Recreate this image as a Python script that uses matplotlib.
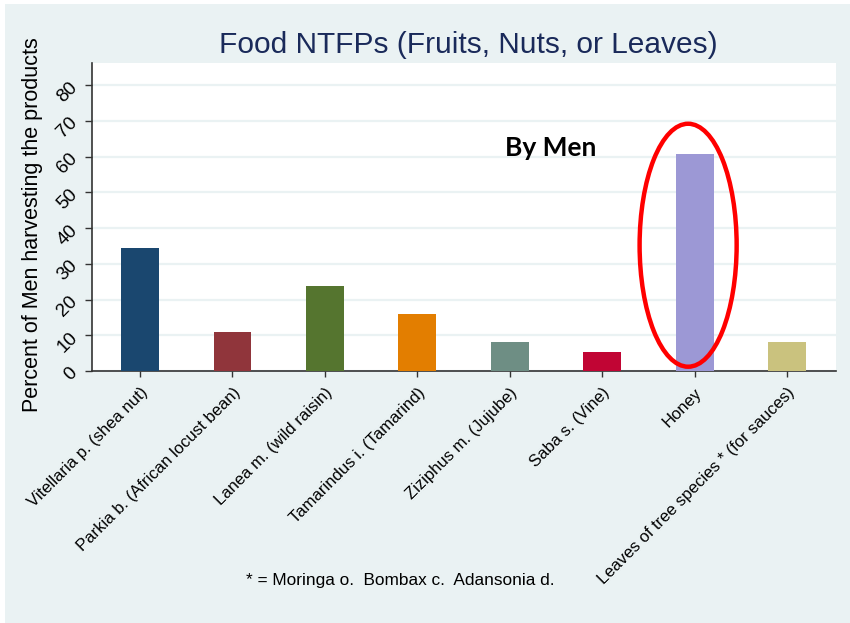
import numpy as np
import matplotlib.pyplot as plt
from matplotlib.patches import Ellipse, Rectangle

categories = ["Vitellaria p. (shea nut)", "Parkia b. (African locust bean)",
              "Lanea m. (wild raisin)", "Tamarindus i. (Tamarind)",
              "Ziziphus m. (Jujube)", "Saba s. (Vine)", "Honey",
              "Leaves of tree species * (for sauces)"]
values = [34.4, 10.8, 23.8, 15.9, 8.0, 5.4, 60.7, 8.0]
colors = ["#1a476f", "#90353b", "#55752f", "#e37e00",
          "#6e8e84", "#c10534", "#9c98d5", "#cac27e"]
yticks = [0, 10, 20, 30, 40, 50, 60, 70, 80]

plt.rcParams['font.family'] = ['Liberation Sans', 'DejaVu Sans']
bg = "#eaf2f3"

fig = plt.figure(figsize=(8.5, 6.23), dpi=100)
fig.patch.set_facecolor("white")
fig.patches.append(Rectangle((5/850, 0), 1, 1 - 4/623, transform=fig.transFigure,
                             facecolor=bg, edgecolor="none", zorder=-10))

ax = fig.add_axes([92/850, 1 - 371/623, (836-92)/850, (371-63)/623])
x = np.arange(len(categories))
ax.bar(x, values, width=0.41, color=colors, zorder=3)
ax.set_xlim(-0.52, 7.53)
ax.set_ylim(0, 86.2)
ax.set_yticks(yticks)
ax.set_yticklabels([str(t) for t in yticks], rotation=45, fontsize=13.5)
ax.set_xticks(x)
ax.set_xticklabels(categories, rotation=45, ha="right", rotation_mode="anchor", fontsize=12)
ax.tick_params(axis="y", length=5, width=1, pad=3, color="#333333")
ax.tick_params(axis="x", length=4, width=1, pad=6, color="#333333")
ax.grid(axis="y", color=bg, lw=1.6, zorder=0)
for s in ["top", "right"]:
    ax.spines[s].set_visible(False)
for s in ["left", "bottom"]:
    ax.spines[s].set_color("#333333")
    ax.spines[s].set_linewidth(1.2)

ax.add_patch(Ellipse((5.93, 35.2), 1.05, 68, fill=False, edgecolor="#ff0000",
                     lw=3.2, zorder=5, clip_on=False))
ax.text(4.44, 62.4, "By Men", ha="center", va="center", fontsize=19,
        fontweight="bold", family=["Lato", "DejaVu Sans"])

fig.text(468/850, 1 - 45/623, "Food NTFPs (Fruits, Nuts, or Leaves)",
         ha="center", va="center", fontsize=21.5, color="#1a2a5a")
fig.text(33/850, 1 - 225/623, "Percent of Men harvesting the products",
         ha="center", va="center", rotation=90, fontsize=15.5)
fig.text(400/850, 1 - 580/623, "* = Moringa o.  Bombax c.  Adansonia d.",
         ha="center", va="center", fontsize=12.4)

fig.savefig("out.png", dpi=100)
